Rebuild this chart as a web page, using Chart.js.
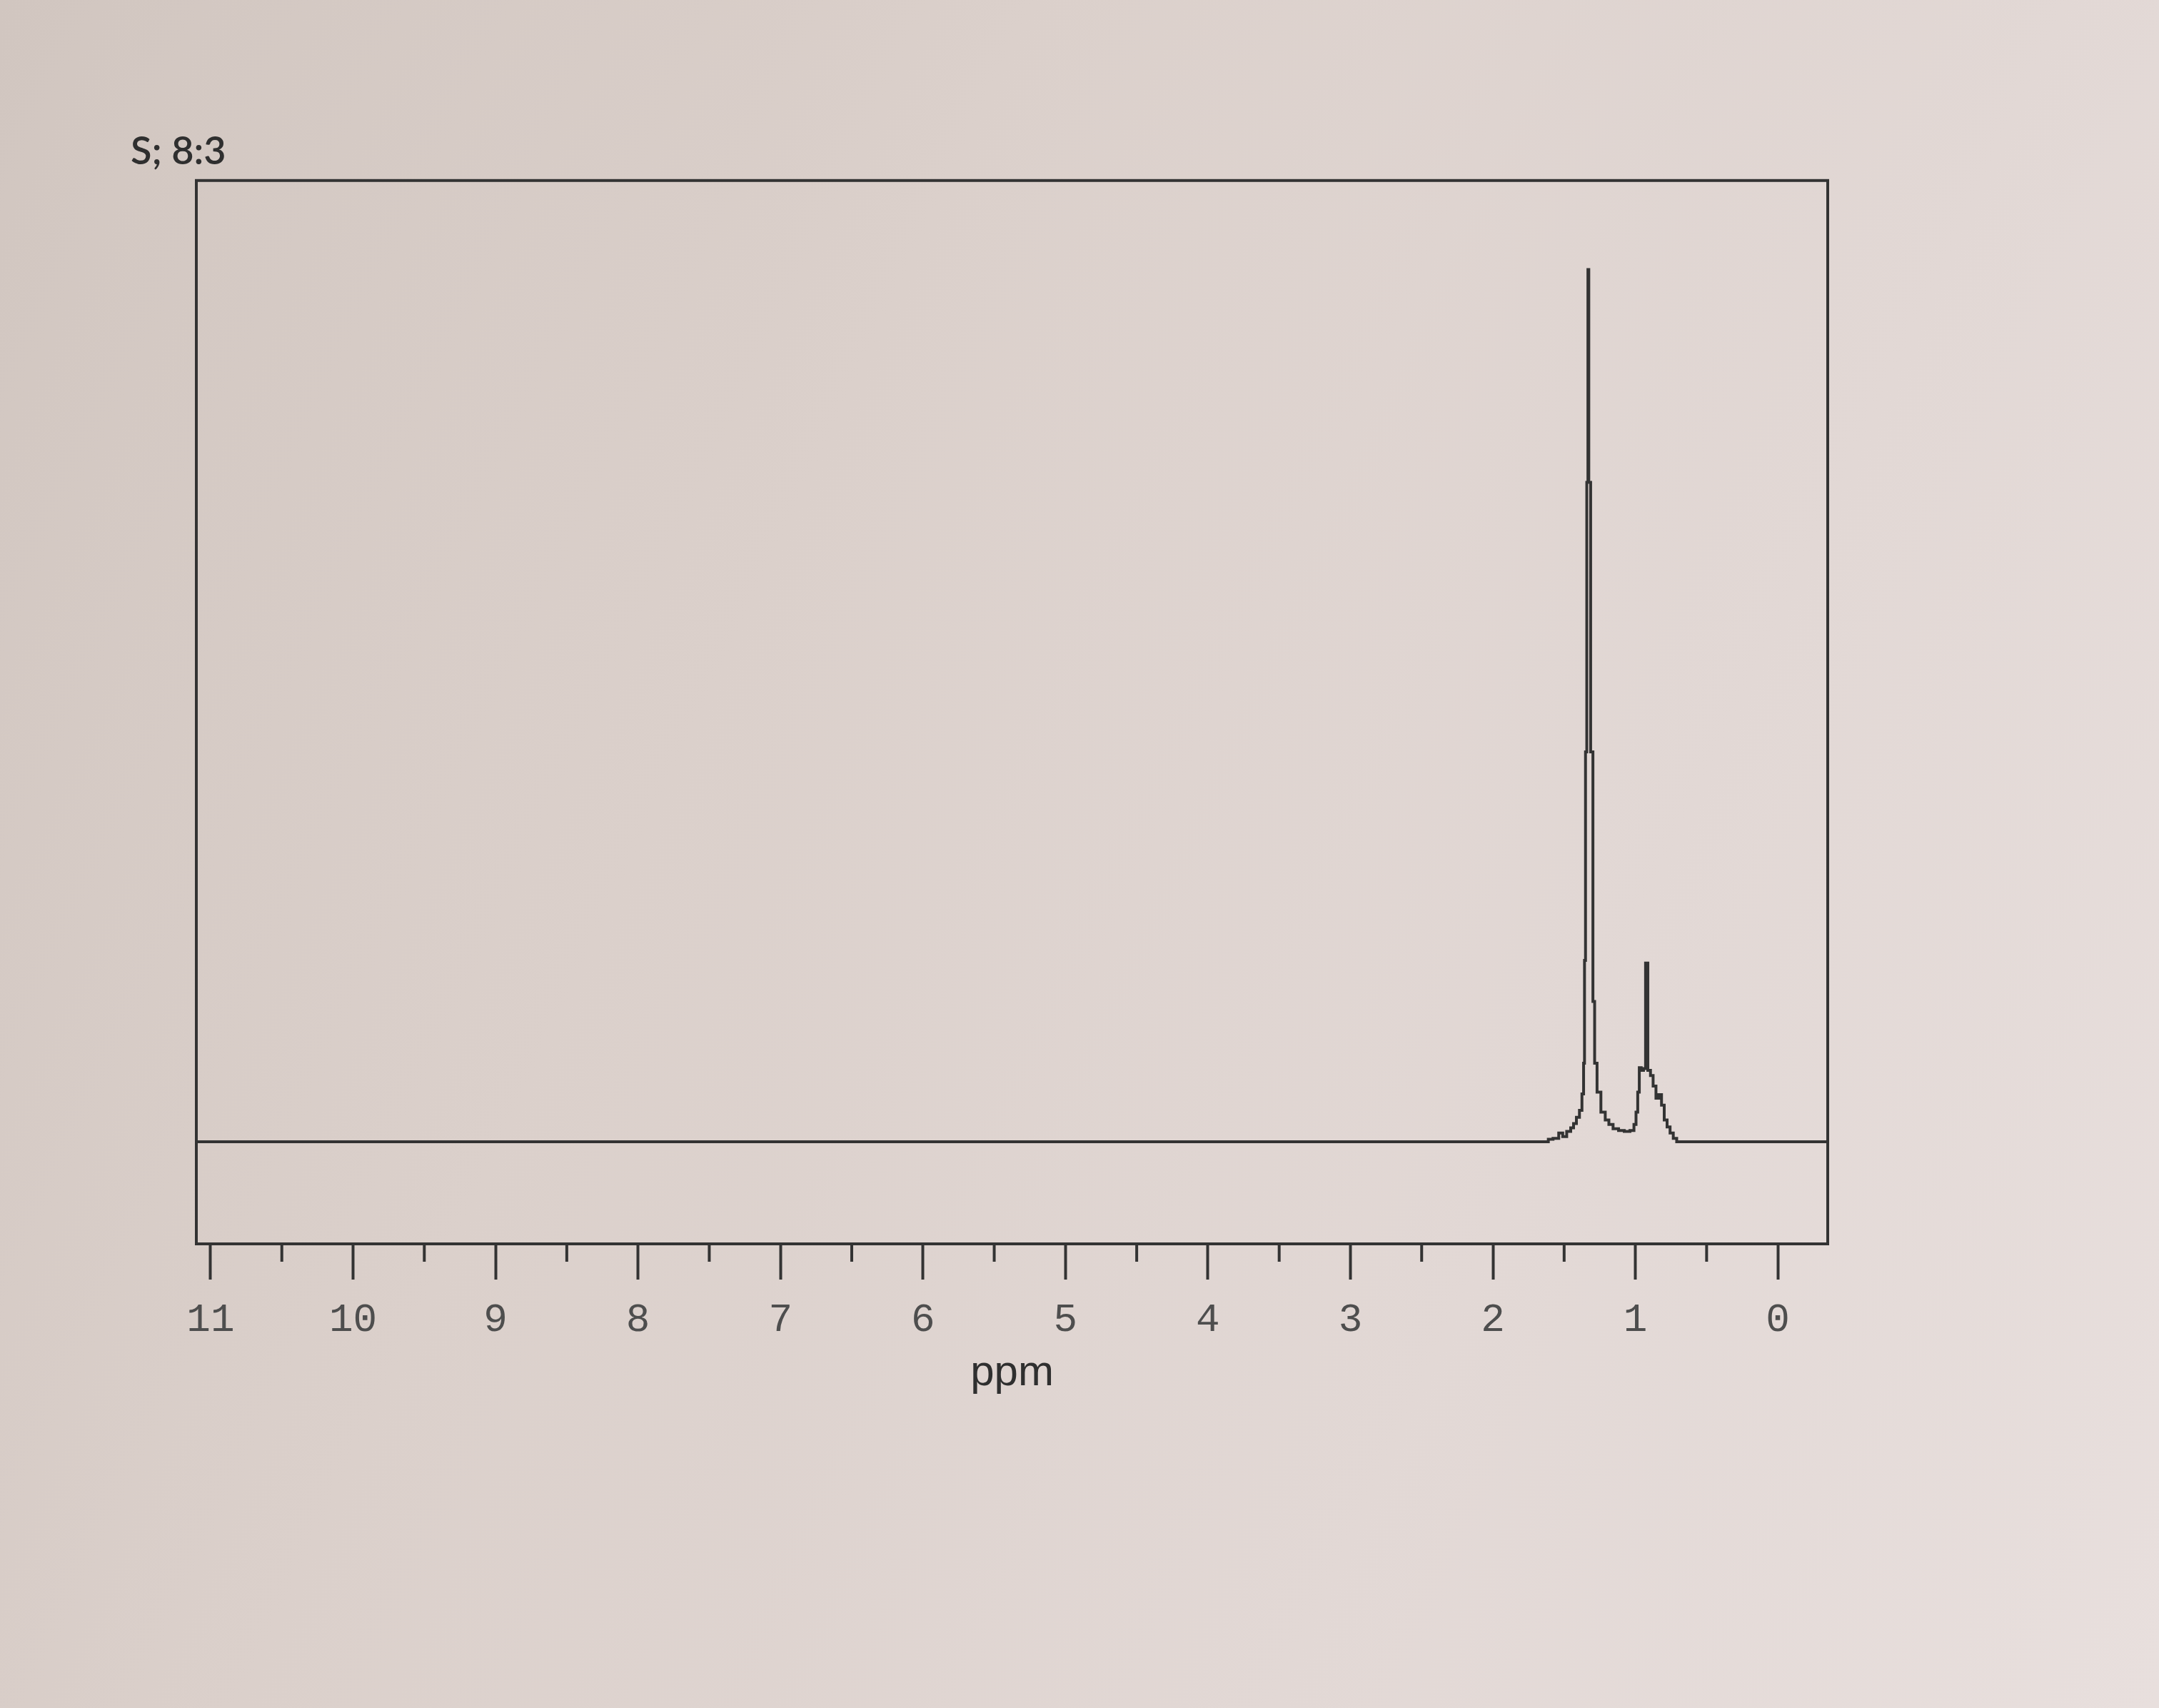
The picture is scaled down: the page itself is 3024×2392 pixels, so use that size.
<!DOCTYPE html>
<html>
<head>
<meta charset="utf-8">
<script src="https://cdn.jsdelivr.net/npm/chart.js@4.4.1/dist/chart.umd.min.js"></script>
<style>
  html, body { margin: 0; padding: 0; }
  body {
    width: 3024px; height: 2392px; overflow: hidden;
    background: linear-gradient(115deg, #d1c6c0 0%, #dbd0cb 35%, #e2d8d5 70%, #e8dfdd 100%);
  }
  #bungkus { position: relative; width: 3024px; height: 2392px; }
</style>
</head>
<body>
<div id="bungkus"><canvas id="spektrum" width="3024" height="2392"></canvas></div>
<script>
// judul di pojok kiri atas
const judul = 'S; 8:3';

// pergeseran kimia (ppm) dan intensitas relatif
const ppm = [11.1, 1.62, 1.602, 1.554, 1.522, 1.498, 1.466, 1.442, 1.426, 1.402, 1.383,
  1.367, 1.360, 1.354, 1.346, 1.336, 1.330, 1.324, 1.304, 1.292, 1.280, 1.258, 1.226,
  1.197, 1.175, 1.138, 1.098, 1.058, 1.018, 1.002, 0.989, 0.978, 0.967, 0.951, 0.935,
  0.922, 0.903, 0.885, 0.866, 0.845, 0.826, 0.807, 0.788, 0.767, 0.746, 0.722, 0.698, -0.35];
const intensitas = [0, 0, 0.3, 0.4, 1.0, 0.6, 1.2, 1.6, 2.1, 2.8, 3.6,
  5.5, 9.0, 20.8, 44.7, 75.6, 100, 75.6, 44.7, 16.1, 9.0, 5.7, 3.4,
  2.5, 2.0, 1.5, 1.3, 1.2, 1.3, 2.0, 3.4, 5.7, 8.5, 8.2, 8.4,
  20.5, 8.2, 7.6, 6.4, 5.0, 5.4, 4.2, 2.5, 1.7, 1.0, 0.4, 0, 0];

// tick sumbu x
const labelTicks = [11, 10, 9, 8, 7, 6, 5, 4, 3, 2, 1, 0];
const minorTicks = [10.5, 9.5, 8.5, 7.5, 6.5, 5.5, 4.5, 3.5, 2.5, 1.5, 0.5];

const warnaGaris = '#333333';
const warnaTeks = '#4e4e4e';

const titik = ppm.map((p, i) => ({ x: p, y: intensitas[i] }));

// kotak luar + tick kecil di bawah
const kotakDanTick = {
  id: 'kotakDanTick',
  afterDraw(chart) {
    const { ctx, chartArea: a, scales: { x } } = chart;
    ctx.save();
    ctx.strokeStyle = warnaGaris;
    ctx.lineWidth = 4;
    ctx.strokeRect(a.left, a.top, a.right - a.left, a.bottom - a.top);
    ctx.beginPath();
    minorTicks.forEach(v => {
      const px = x.getPixelForValue(v);
      ctx.moveTo(px, a.bottom);
      ctx.lineTo(px, a.bottom + 25);
    });
    ctx.stroke();
    ctx.restore();
  }
};

const chartCtx = document.getElementById('spektrum').getContext('2d');
const chart = new Chart(chartCtx, {
  type: 'line',
  data: {
    datasets: [{
      label: 'spektrum',
      data: titik,
      borderColor: warnaGaris,
      borderWidth: 4,
      pointRadius: 0,
      fill: false,
      stepped: 'middle',
      tension: 0
    }]
  },
  options: {
    responsive: false,
    animation: false,
    layout: { padding: { top: 180, left: 183, right: 464, bottom: 433 } },
    plugins: {
      legend: { display: false },
      tooltip: { enabled: false },
      title: {
        display: true,
        text: judul,
        align: 'start',
        color: '#2f2f2f',
        font: { family: 'Lato', size: 54, weight: '600' },
        padding: { top: 0, bottom: 8 }
      }
    },
    scales: {
      x: {
        type: 'linear',
        reverse: true,
        min: -0.35,
        max: 11.1,
        afterBuildTicks: (s) => { s.ticks = labelTicks.map(v => ({ value: v })); },
        afterFit: (s) => { s.height = 217; },
        ticks: {
          autoSkip: false,
          maxRotation: 0,
          padding: 24,
          color: warnaTeks,
          font: { family: 'Liberation Mono', size: 56 },
          callback: (v) => String(v)
        },
        grid: {
          display: true,
          drawOnChartArea: false,
          drawTicks: true,
          tickLength: 50,
          tickWidth: 4,
          tickColor: warnaGaris
        },
        border: { display: false },
        title: {
          display: true,
          text: 'ppm',
          color: '#2f2f2f',
          font: { family: 'Liberation Sans Narrow, Liberation Sans', size: 60 },
          padding: 0
        }
      },
      y: {
        min: -11.7,
        max: 110.2,
        afterFit: (s) => { s.width = 92; },
        ticks: { display: false },
        grid: { display: false },
        border: { display: false }
      }
    }
  },
  plugins: [kotakDanTick]
});
</script>
</body>
</html>
